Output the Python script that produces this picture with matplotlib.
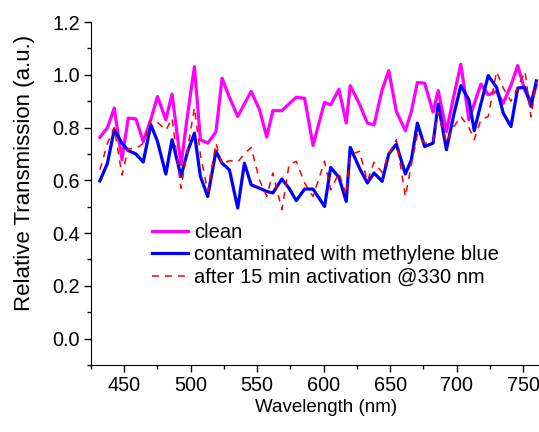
import matplotlib
matplotlib.use("Agg")
import matplotlib.pyplot as plt
from matplotlib.ticker import MultipleLocator

plt.rcParams['font.family'] = ['Liberation Sans', 'DejaVu Sans']

# wavelength grid (nm)
wavelength = [431.7, 437.4, 442.5, 448.3, 453.0, 458.8, 464.3, 470.0, 475.0, 481.3,
              486.0, 492.7, 497.7, 502.8, 507.3, 512.8, 519.0, 523.6, 529.1, 535.4,
              540.4, 545.5, 551.8, 557.2, 561.8, 568.6, 574.0, 579.4, 585.7, 592.0,
              600.7, 605.3, 611.5, 617.0, 620.0, 627.0, 632.9, 637.9, 644.0, 649.0,
              654.7, 661.5, 666.0, 670.5, 676.0, 682.3, 686.2, 692.4, 697.5, 703.2,
              709.3, 713.3, 718.3, 723.8, 730.1, 735.1, 740.9, 746.0, 751.5, 756.0,
              760.0]

clean = [0.763, 0.800, 0.874, 0.678, 0.836, 0.833, 0.747, 0.830, 0.918, 0.830,
         0.927, 0.659, 0.850, 1.031, 0.754, 0.741, 0.783, 0.987, 0.915, 0.842,
         0.890, 0.937, 0.867, 0.764, 0.864, 0.864, 0.890, 0.915, 0.911, 0.732,
         0.896, 0.886, 0.945, 0.817, 0.959, 0.889, 0.817, 0.810, 0.943, 1.016,
         0.861, 0.788, 0.861, 0.971, 0.968, 0.859, 0.940, 0.785, 0.910, 1.040,
         0.830, 0.890, 0.965, 0.924, 0.937, 0.892, 0.960, 1.035, 0.937, 0.900,
         0.960]

contaminated = [0.598, 0.665, 0.792, 0.741, 0.713, 0.700, 0.669, 0.811, 0.748, 0.624,
                0.754, 0.615, 0.710, 0.779, 0.615, 0.539, 0.710, 0.665, 0.640, 0.495,
                0.665, 0.583, 0.570, 0.558, 0.552, 0.605, 0.570, 0.523, 0.567, 0.567,
                0.501, 0.649, 0.611, 0.520, 0.725, 0.646, 0.590, 0.628, 0.596, 0.700,
                0.737, 0.624, 0.678, 0.817, 0.728, 0.741, 0.889, 0.716, 0.840, 0.959,
                0.905, 0.788, 0.890, 0.997, 0.952, 0.855, 0.804, 0.950, 0.952, 0.880,
                0.977]

activated = [0.640, 0.740, 0.800, 0.620, 0.720, 0.720, 0.740, 0.830, 0.820, 0.790,
             0.835, 0.570, 0.720, 0.875, 0.697, 0.558, 0.741, 0.660, 0.675, 0.670,
             0.700, 0.725, 0.600, 0.540, 0.628, 0.489, 0.660, 0.672, 0.590, 0.539,
             0.672, 0.564, 0.628, 0.545, 0.697, 0.710, 0.596, 0.669, 0.630, 0.700,
             0.754, 0.539, 0.660, 0.773, 0.740, 0.750, 0.860, 0.745, 0.800, 0.842,
             0.800, 0.754, 0.830, 0.842, 1.012, 0.950, 0.900, 0.950, 1.012, 0.840,
             0.975]

fig = plt.figure(figsize=(5.39, 4.32), dpi=100)
ax = fig.add_axes([0.1688, 0.155, 0.8386, 0.794])

ax.plot(wavelength, clean, color='#FF00FF', linewidth=2.3, label='clean')
ax.plot(wavelength, contaminated, color='#0000FF', linewidth=2.3,
        label='contaminated with methylene blue')
ax.plot(wavelength, activated, color='#FF0000', linewidth=1.1,
        linestyle=(0, (4.5, 4)), label='after 15 min activation @330 nm')

ax.set_xlim(425, 765)
ax.set_ylim(-0.1, 1.2)
ax.xaxis.set_major_locator(MultipleLocator(50))
ax.xaxis.set_minor_locator(MultipleLocator(25))
ax.yaxis.set_major_locator(MultipleLocator(0.2))
ax.yaxis.set_minor_locator(MultipleLocator(0.1))
ax.yaxis.set_major_formatter(plt.FuncFormatter(lambda v, p: f'{v:.1f}'))

ax.spines['top'].set_visible(False)
ax.spines['right'].set_visible(False)
ax.tick_params(which='major', direction='out', length=5, width=1, labelsize=14.3,
               pad=3)
ax.tick_params(which='minor', direction='out', length=3, width=1)

ax.set_xlabel('Wavelength (nm)', fontsize=13.5)
ax.set_ylabel('Relative Transmission (a.u.)', fontsize=16)
ax.xaxis.set_label_coords(0.52, -0.10)
ax.yaxis.set_label_coords(-0.124, 0.56)

ax.legend(loc='upper left', bbox_to_anchor=(0.135, 0.415), frameon=False,
          fontsize=14.5, handlelength=1.8, handletextpad=0.3, labelspacing=0.18,
          borderpad=0, borderaxespad=0)

fig.savefig('out.png', dpi=100)
